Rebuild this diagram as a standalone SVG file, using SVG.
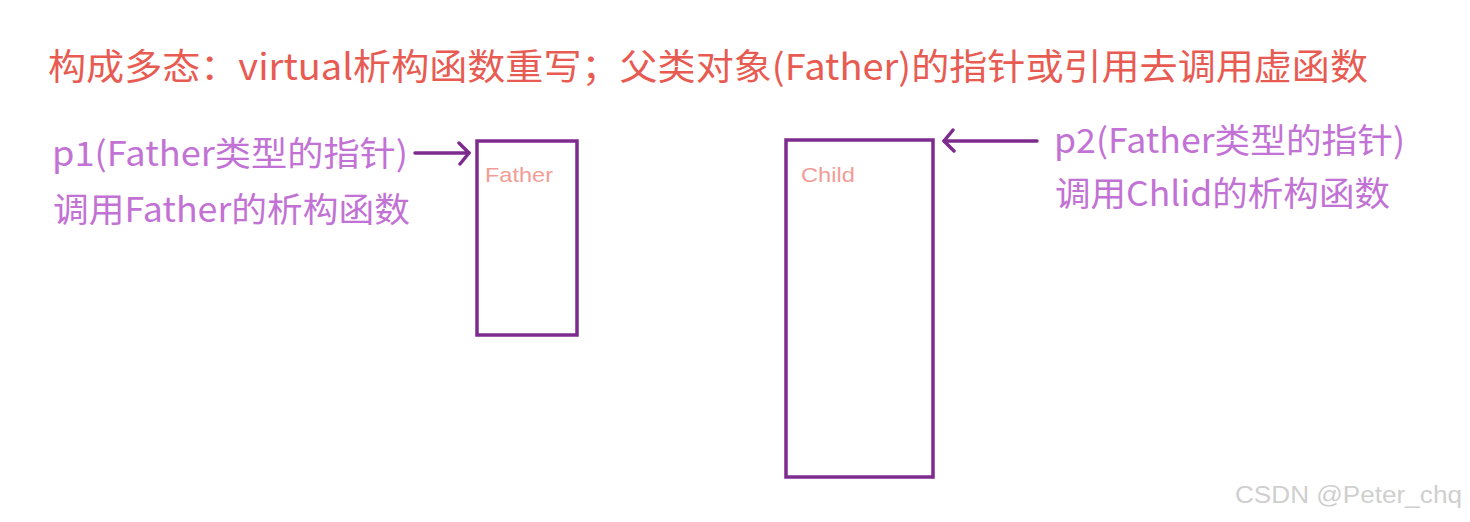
<svg xmlns="http://www.w3.org/2000/svg" width="1470" height="522" viewBox="0 0 1470 522">
<style>
.title{font-family:"Noto Sans CJK SC","Noto Sans",sans-serif;font-size:36px;fill:#E85B52}
.note{font-family:"Noto Sans CJK SC","Noto Sans",sans-serif;font-size:34px;fill:#C272D4}
.lbl{font-family:"Liberation Sans","Noto Sans",sans-serif;font-size:21px;fill:#F39C96}
.box{fill:none;stroke:#7D2B8E;stroke-width:3.5}
.conn{fill:none;stroke:#7D2B8E;stroke-width:3.5;stroke-linecap:round;stroke-linejoin:round}
.wm{font-family:"Liberation Sans",sans-serif;font-size:23px;fill:#cfcfcf}
</style>
<defs>
<marker id="chev" viewBox="0 0 14 26" refX="12" refY="12" markerWidth="14" markerHeight="26" markerUnits="userSpaceOnUse" orient="auto">
<path d="M2,2 L12,12 L3,23" fill="none" stroke="#7D2B8E" stroke-width="3.5" stroke-linecap="round" stroke-linejoin="round"/>
</marker>
</defs>
<rect width="1470" height="522" fill="#ffffff"/>
<text class="title" x="48" y="80" textLength="1320" lengthAdjust="spacingAndGlyphs">构成多态：virtual析构函数重写；父类对象(Father)的指针或引用去调用虚函数</text>
<g id="note-p1">
<text class="note" x="52" y="166" textLength="356" lengthAdjust="spacingAndGlyphs">p1(Father类型的指针)</text>
<text class="note" x="53" y="222" textLength="357" lengthAdjust="spacingAndGlyphs">调用Father的析构函数</text>
</g>
<g id="note-p2">
<text class="note" x="1054" y="153" textLength="351" lengthAdjust="spacingAndGlyphs">p2(Father类型的指针)</text>
<text class="note" x="1055" y="206" textLength="335" lengthAdjust="spacingAndGlyphs">调用Chlid的析构函数</text>
</g>
<g id="node-father">
<rect class="box" x="477" y="141" width="100" height="194"/>
<text class="lbl" x="485" y="182" textLength="68" lengthAdjust="spacingAndGlyphs">Father</text>
</g>
<g id="node-child">
<rect class="box" x="786" y="140" width="147" height="337"/>
<text class="lbl" x="801" y="182" textLength="54" lengthAdjust="spacingAndGlyphs">Child</text>
</g>
<g id="connectors">
<path class="conn" d="M415,153 L469,153" marker-end="url(#chev)"/>
<path class="conn" d="M1037,141 L944,141" marker-end="url(#chev)"/>
</g>
<text class="wm" x="1235" y="503" textLength="227" lengthAdjust="spacingAndGlyphs">CSDN @Peter_chq</text>
</svg>
